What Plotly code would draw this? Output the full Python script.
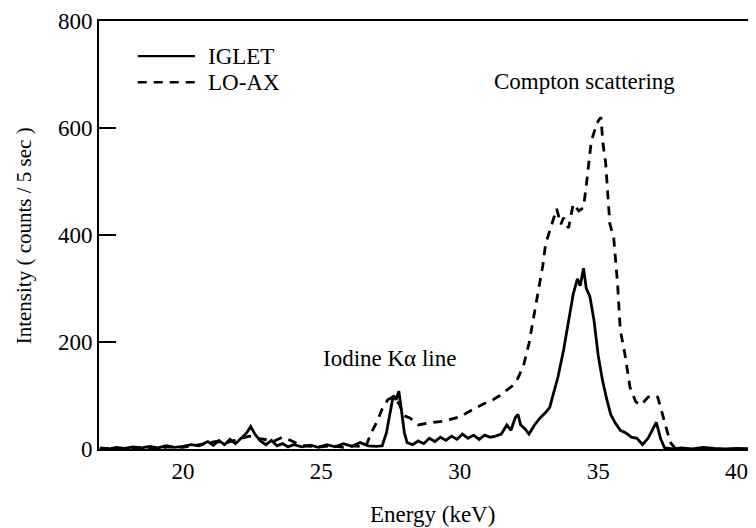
import plotly.graph_objects as go

# IGLET (solid) spectrum
iglet_e = [17.0, 17.3, 17.6, 17.9, 18.2, 18.5, 18.8, 19.1, 19.4, 19.7, 20.0, 20.3, 20.6, 20.9, 21.1, 21.3,
           21.5, 21.7, 21.9, 22.1, 22.3, 22.45, 22.6, 22.8, 23.0, 23.2, 23.4, 23.6, 23.8, 24.0, 24.3, 24.6,
           24.9, 25.2, 25.5, 25.8, 26.1, 26.4, 26.7, 27.0, 27.2, 27.35, 27.5, 27.6, 27.7, 27.8, 27.9, 28.0,
           28.1, 28.3, 28.5, 28.7, 28.9, 29.1, 29.3, 29.5, 29.7, 29.9, 30.1, 30.3, 30.5, 30.7, 30.9, 31.1,
           31.3, 31.5, 31.7, 31.85, 32.0, 32.1, 32.2, 32.35, 32.5, 32.7, 32.9, 33.1, 33.25, 33.4, 33.55, 33.75,
           33.95, 34.1, 34.25, 34.35, 34.47, 34.57, 34.7, 34.85, 35.0, 35.15, 35.3, 35.45, 35.6, 35.8, 36.0, 36.2,
           36.4, 36.6, 36.8, 37.0, 37.1, 37.25, 37.4, 37.7, 38.0, 38.4, 38.8, 39.2, 39.6, 40.0, 40.5, 40.8]
iglet_v = [2, 0, 3, 1, 4, 2, 5, 2, 6, 3, 5, 8, 6, 14, 7, 16,
           8, 18, 10, 20, 30, 42, 28, 15, 8, 16, 6, 10, 4, 8, 4, 7,
           3, 8, 4, 10, 5, 12, 6, 5, 6, 30, 75, 100, 92, 108, 70, 30,
           12, 8, 15, 10, 20, 14, 22, 16, 24, 18, 28, 20, 26, 18, 26, 22,
           24, 28, 45, 35, 58, 65, 45, 38, 28, 45, 58, 68, 78, 105, 135, 185,
           245, 290, 318, 305, 338, 300, 285, 240, 175, 130, 95, 65, 50, 35, 30, 22,
           20, 8, 20, 40, 50, 20, 2, 0, 2, 0, 3, 1, 0, 1, 0, 0]

# LO-AX (dashed) spectrum
loax_e = [17.0, 17.5, 18.0, 18.5, 19.0, 19.5, 20.0, 20.4, 20.8, 21.2, 21.6, 22.0, 22.4, 22.7, 23.0, 23.3,
          23.6, 23.9, 24.2, 24.6, 25.0, 25.4, 25.8, 26.2, 26.6, 26.8, 27.0, 27.2, 27.4, 27.6, 27.8, 28.0,
          28.2, 28.5, 28.8, 29.1, 29.4, 29.7, 30.0, 30.2, 30.4, 30.7, 31.0, 31.2, 31.45, 31.7, 31.9, 32.1,
          32.3, 32.5, 32.65, 32.85, 33.0, 33.1, 33.27, 33.4, 33.5, 33.65, 33.75, 33.93, 34.1, 34.3, 34.47, 34.58,
          34.67, 34.75, 34.9, 35.0, 35.1, 35.17, 35.27, 35.35, 35.42, 35.56, 35.63, 35.7, 35.75, 35.8, 35.96, 36.07,
          36.15, 36.36, 36.55, 36.8, 37.0, 37.15, 37.4, 37.6, 37.75, 37.8]
loax_v = [0, 2, 0, 3, 1, 4, 3, 6, 10, 14, 12, 18, 24, 20, 18, 15,
          22, 16, 8, 5, 4, 6, 3, 6, 4, 30, 50, 75, 92, 98, 85, 62,
          58, 45, 48, 50, 52, 56, 60, 66, 72, 80, 88, 92, 100, 110, 118, 132,
          155, 197, 240, 296, 343, 383, 412, 430, 449, 420, 432, 413, 458, 445, 451, 497,
          542, 575, 600, 613, 620, 572, 535, 475, 421, 395, 357, 309, 264, 222, 179, 142,
          115, 88, 82, 97, 100, 97, 48, 13, 3, 0]

legend_names = ["IGLET", "LO-AX"]
y_ticks = [0, 200, 400, 600, 800]
x_ticks = [20, 25, 30, 35, 40]

FONT = "Liberation Serif, Times New Roman, serif"
DASH = "9px,7px"

fig = go.Figure()
fig.add_trace(go.Scatter(x=iglet_e, y=iglet_v, mode="lines", name=legend_names[0],
                         line=dict(color="black", width=2.8), showlegend=False))
fig.add_trace(go.Scatter(x=loax_e, y=loax_v, mode="lines", name=legend_names[1],
                         line=dict(color="black", width=2.8, dash=DASH), showlegend=False))

# manual legend (longer line samples like the original)
for i, (name, dash) in enumerate(zip(legend_names, ["solid", DASH])):
    yy = 0.918 - i * 0.061
    fig.add_shape(type="line", xref="paper", yref="paper", x0=0.059, x1=0.146, y0=yy, y1=yy,
                  line=dict(color="black", width=2.4, dash=dash))
    fig.add_annotation(xref="paper", yref="paper", x=0.163, y=yy, text=name, showarrow=False,
                       xanchor="left", yanchor="middle", font=dict(family=FONT, size=23, color="black"))

# inward y-axis tick marks
for t in y_ticks[1:-1]:
    fig.add_shape(type="line", xref="paper", yref="y", x0=0, x1=0.026, y0=t, y1=t,
                  line=dict(color="black", width=2))

fig.add_annotation(x=34.5, y=686, text="Compton scattering", showarrow=False,
                   font=dict(family=FONT, size=23, color="black"))
fig.add_annotation(x=27.45, y=170, text="Iodine Kα line", showarrow=False,
                   font=dict(family=FONT, size=23, color="black"))

# axis titles placed as annotations for exact position
fig.add_annotation(xref="paper", yref="paper", x=0.507, y=-0.152, text="Energy (keV)", showarrow=False,
                   xanchor="center", yanchor="middle",
                   font=dict(family=FONT, size=23, color="black"))
fig.add_annotation(xref="paper", yref="paper", x=-0.115, y=0.498, text="Intensity ( counts / 5 sec )",
                   textangle=-90, showarrow=False, xanchor="center", yanchor="middle",
                   font=dict(family=FONT, size=21, color="black"))

fig.update_layout(
    width=756, height=528,
    margin=dict(l=91, r=8, t=13, b=87, autoexpand=False),
    paper_bgcolor="white", plot_bgcolor="white",
    font=dict(family=FONT, size=23, color="black"),
)
fig.update_xaxes(range=[16.97, 40.7], tickvals=x_ticks, showgrid=False, zeroline=False,
                 showline=True, linecolor="black", linewidth=2, mirror=True, ticks="",
                 automargin=False, tickfont=dict(size=23))
fig.update_yaxes(range=[0, 800], tickvals=y_ticks, showgrid=False, zeroline=False,
                 showline=True, linecolor="black", linewidth=2, ticks="inside", ticklen=17,
                 tickwidth=2, tickcolor="black", automargin=False, tickfont=dict(size=23))

fig.write_html("out.html")
